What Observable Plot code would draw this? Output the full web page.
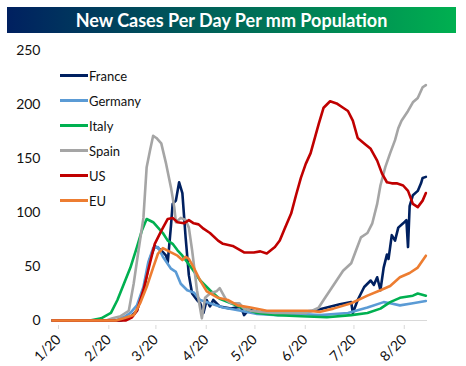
<!DOCTYPE html>
<html><head><meta charset="utf-8">
<script src="https://cdn.jsdelivr.net/npm/d3@7"></script>
<script src="https://cdn.jsdelivr.net/npm/@observablehq/plot@0.6"></script>
<style>
body{margin:0;background:#fff;font-family:Lato,"Liberation Sans",sans-serif;}
#wrap{position:relative;width:466px;height:366px;overflow:hidden;}
#title{position:absolute;left:7px;top:7px;width:449px;height:26px;background:linear-gradient(to right,#002060,#00b050);color:#fff;font-weight:bold;font-size:18px;line-height:26px;text-align:center;}
#chart{position:absolute;left:0;top:40px;}
#legend{position:absolute;left:60px;top:63px;}
.row{height:25px;display:flex;align-items:center;font-size:13px;color:#111;}
.sw{width:28px;height:3.5px;margin-right:1px;}
</style></head><body>
<div id="wrap"><div id="title">New Cases Per Day Per mm Population</div><div id="chart"></div><div id="legend"></div></div>
<script>
const countries = ["France","Germany","Italy","Spain","US","EU"];
const colors = ["#002060","#5b9bd5","#00b050","#a5a5a5","#c00000","#ed7d31"];
const yTicks = [0,50,100,150,200,250];
const xTickDates = ["2020-01-22","2020-02-22","2020-03-22","2020-04-22","2020-05-22","2020-06-22","2020-07-22","2020-08-22"];
const xTickLabels = ["1/20","2/20","3/20","4/20","5/20","6/20","7/20","8/20"];

const france = [["2020-01-22",0],["2020-03-04",0],["2020-03-10",3],["2020-03-14",9],["2020-03-16",19],["2020-03-19",34],["2020-03-22",57],["2020-03-25",69],["2020-03-29",65],["2020-04-01",60],["2020-04-02",54],["2020-04-04",88],["2020-04-05",108],["2020-04-07",111],["2020-04-09",128],["2020-04-11",118],["2020-04-13",77],["2020-04-15",42],["2020-04-17",25],["2020-04-20",19],["2020-04-22",16],["2020-04-24",7],["2020-04-26",19],["2020-04-28",13],["2020-04-30",19],["2020-05-04",13],["2020-05-11",11],["2020-05-17",13],["2020-05-19",5],["2020-05-22",10],["2020-05-27",8],["2020-06-04",6],["2020-06-13",6],["2020-06-23",8],["2020-07-01",9],["2020-07-09",12],["2020-07-17",15],["2020-07-24",17],["2020-07-25",7],["2020-07-28",19],["2020-08-01",31],["2020-08-03",34],["2020-08-05",37],["2020-08-07",33],["2020-08-09",40],["2020-08-11",28],["2020-08-13",49],["2020-08-15",61],["2020-08-16",57],["2020-08-18",79],["2020-08-20",74],["2020-08-22",86],["2020-08-25",90],["2020-08-27",93],["2020-08-28",68],["2020-08-29",106],["2020-08-31",116],["2020-09-03",120],["2020-09-05",127],["2020-09-06",132],["2020-09-08",133]];
const germany = [["2020-01-22",0],["2020-03-01",0],["2020-03-07",4],["2020-03-10",7],["2020-03-14",14],["2020-03-18",31],["2020-03-21",54],["2020-03-24",67],["2020-03-27",68],["2020-03-30",59],["2020-04-04",48],["2020-04-07",45],["2020-04-10",34],["2020-04-14",28],["2020-04-18",26],["2020-04-22",19],["2020-04-28",16],["2020-05-06",12],["2020-05-17",9],["2020-05-27",6],["2020-06-09",5],["2020-06-23",6],["2020-07-05",5],["2020-07-22",7],["2020-08-03",12],["2020-08-13",17],["2020-08-17",16],["2020-08-23",14],["2020-08-31",16],["2020-09-08",18]];
const italy = [["2020-01-22",0],["2020-02-14",0],["2020-02-21",2],["2020-02-27",7],["2020-03-02",19],["2020-03-06",34],["2020-03-10",49],["2020-03-14",68],["2020-03-17",83],["2020-03-20",94],["2020-03-24",91],["2020-03-27",86],["2020-03-30",81],["2020-04-02",74],["2020-04-05",71],["2020-04-08",65],["2020-04-11",60],["2020-04-14",54],["2020-04-17",48],["2020-04-22",37],["2020-04-28",28],["2020-05-04",20],["2020-05-11",16],["2020-05-19",11],["2020-05-27",7],["2020-06-09",5],["2020-06-23",4],["2020-07-09",3],["2020-07-24",5],["2020-08-03",7],["2020-08-11",11],["2020-08-17",17],["2020-08-23",21],["2020-08-31",23],["2020-09-03",25],["2020-09-08",23]];
const spain = [["2020-01-22",0],["2020-02-24",0],["2020-02-28",2],["2020-03-04",4],["2020-03-09",9],["2020-03-12",34],["2020-03-15",65],["2020-03-18",95],["2020-03-20",142],["2020-03-22",157],["2020-03-24",171],["2020-03-26",169],["2020-03-29",164],["2020-04-01",145],["2020-04-04",123],["2020-04-06",105],["2020-04-07",91],["2020-04-10",95],["2020-04-13",93],["2020-04-15",86],["2020-04-17",65],["2020-04-20",28],["2020-04-23",2],["2020-04-25",21],["2020-04-28",25],["2020-05-02",27],["2020-05-04",30],["2020-05-08",19],["2020-05-11",16],["2020-05-16",16],["2020-05-19",11],["2020-05-23",9],["2020-05-29",8],["2020-06-07",7],["2020-06-17",7],["2020-06-26",7],["2020-06-30",9],["2020-07-04",12],["2020-07-07",19],["2020-07-11",28],["2020-07-15",37],["2020-07-19",46],["2020-07-24",53],["2020-07-27",65],["2020-07-30",77],["2020-08-03",81],["2020-08-06",90],["2020-08-09",108],["2020-08-11",125],["2020-08-14",142],["2020-08-17",155],["2020-08-20",167],["2020-08-22",178],["2020-08-24",185],["2020-08-28",194],["2020-08-31",202],["2020-09-03",206],["2020-09-06",216],["2020-09-08",218]];
const us = [["2020-01-22",0],["2020-03-07",0],["2020-03-11",3],["2020-03-14",9],["2020-03-18",28],["2020-03-22",53],["2020-03-25",71],["2020-03-29",83],["2020-04-02",94],["2020-04-05",95],["2020-04-08",91],["2020-04-12",90],["2020-04-15",93],["2020-04-18",90],["2020-04-21",89],["2020-04-24",85],["2020-04-28",81],["2020-05-03",74],["2020-05-06",71],["2020-05-12",69],["2020-05-19",63],["2020-05-25",63],["2020-05-29",64],["2020-06-02",62],["2020-06-07",68],["2020-06-10",74],["2020-06-13",85],["2020-06-17",99],["2020-06-20",116],["2020-06-23",132],["2020-06-26",145],["2020-06-29",155],["2020-07-04",182],["2020-07-07",197],["2020-07-11",203],["2020-07-15",201],["2020-07-19",197],["2020-07-22",194],["2020-07-25",185],["2020-07-28",169],["2020-08-01",164],["2020-08-05",159],["2020-08-09",148],["2020-08-12",136],["2020-08-15",128],["2020-08-18",127],["2020-08-21",127],["2020-08-25",125],["2020-08-28",120],["2020-08-31",108],["2020-09-03",105],["2020-09-06",111],["2020-09-08",118]];
const eu = [["2020-01-22",0],["2020-03-01",0],["2020-03-06",2],["2020-03-12",5],["2020-03-16",16],["2020-03-20",31],["2020-03-24",49],["2020-03-27",62],["2020-03-30",67],["2020-04-04",63],["2020-04-08",60],["2020-04-11",56],["2020-04-13",59],["2020-04-15",57],["2020-04-18",49],["2020-04-22",37],["2020-04-26",27],["2020-05-03",21],["2020-05-09",19],["2020-05-15",14],["2020-05-23",12],["2020-06-02",9],["2020-06-17",9],["2020-06-27",9],["2020-07-05",8],["2020-07-13",11],["2020-07-24",16],["2020-08-03",23],["2020-08-11",28],["2020-08-17",32],["2020-08-23",40],["2020-08-29",44],["2020-09-03",49],["2020-09-08",60]];

const seriesData = [france, germany, italy, spain, us, eu];
const parse = s => new Date(s + "T00:00:00Z");
const rows = [];
seriesData.forEach((arr, i) => arr.forEach(([d, v]) => rows.push({country: countries[i], date: parse(d), value: v})));
const tickDates = xTickDates.map(parse);
const labelOf = d => { const i = tickDates.findIndex(t => +t === +d); return i >= 0 ? xTickLabels[i] : ""; };

const chart = Plot.plot({
  width: 466, height: 326,
  marginLeft: 52, marginRight: 39, marginTop: 10, marginBottom: 46,
  style: {fontFamily: "Lato, 'Liberation Sans', sans-serif", fontSize: "14px", color: "#111", background: "transparent"},
  x: {type: "utc", domain: [parse("2020-01-22"), parse("2020-09-09")]},
  y: {domain: [0, 250]},
  color: {domain: countries, range: colors},
  marks: [
    Plot.ruleY([0], {stroke: "#d9d9d9", strokeWidth: 1}),
    Plot.axisX({ticks: tickDates, tickFormat: labelOf, tickRotate: -45, tickSize: 4, stroke: "#d9d9d9", fill: "#111", label: null, fontSize: 14, dx: 6, dy: 5}),
    Plot.axisY({ticks: yTicks, tickSize: 0, tickPadding: 12, label: null, fontSize: 14, fill: "#111"}),
    Plot.lineY(rows, {x: "date", y: "value", z: "country", stroke: "country", strokeWidth: 2.6, strokeLinejoin: "round"})
  ]
});
document.getElementById("chart").appendChild(chart);

const legend = document.getElementById("legend");
countries.forEach((c, i) => {
  const row = document.createElement("div");
  row.className = "row";
  const sw = document.createElement("span");
  sw.className = "sw";
  sw.style.background = colors[i];
  const t = document.createElement("span");
  t.textContent = c;
  row.appendChild(sw); row.appendChild(t);
  legend.appendChild(row);
});
</script>
</body></html>
